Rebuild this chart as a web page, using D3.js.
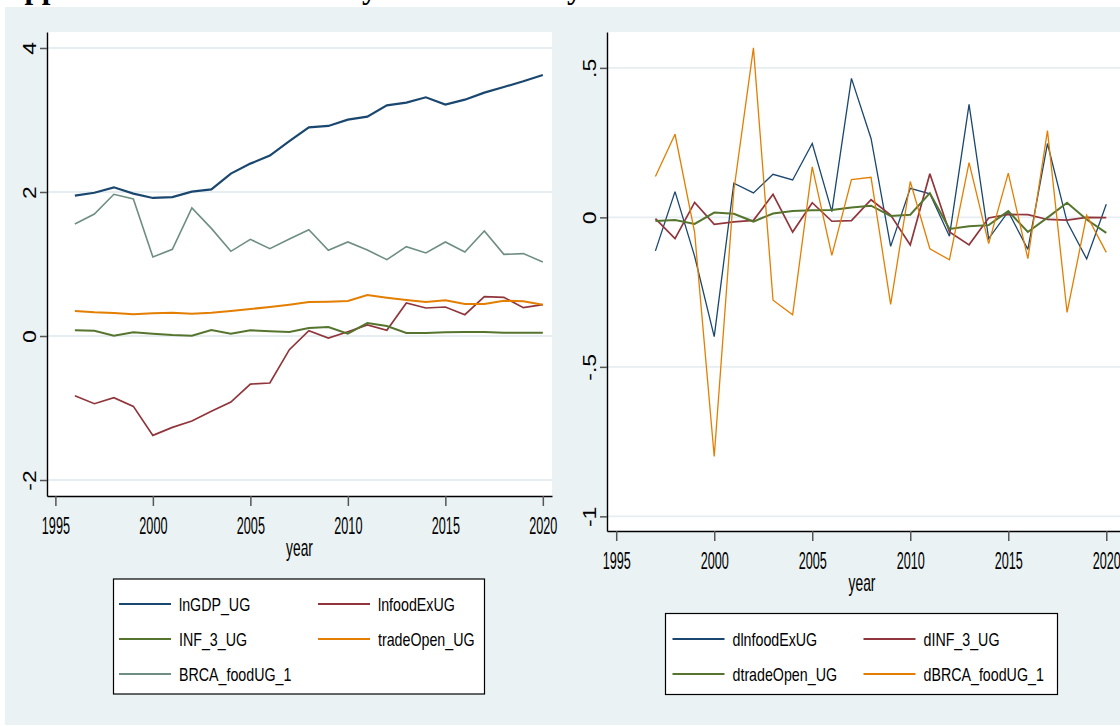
<!DOCTYPE html>
<html>
<head>
<meta charset="utf-8">
<script src="https://cdn.jsdelivr.net/npm/d3@7/dist/d3.min.js"></script>
<style>
  html, body { margin: 0; padding: 0; background: #ffffff; }
  svg { display: block; }
  text { font-family: "Liberation Sans", Arial, sans-serif; fill: #000; }
</style>
</head>
<body>
<svg id="chart" width="1120" height="726"></svg>
<script>
// ---- data -------------------------------------------------------------
const years  = [1996, 1997, 1998, 1999, 2000, 2001, 2002, 2003, 2004, 2005, 2006, 2007, 2008,
                2009, 2010, 2011, 2012, 2013, 2014, 2015, 2016, 2017, 2018, 2019, 2020];
const dyears = [1997, 1998, 1999, 2000, 2001, 2002, 2003, 2004, 2005, 2006, 2007, 2008,
                2009, 2010, 2011, 2012, 2013, 2014, 2015, 2016, 2017, 2018, 2019, 2020];

// levels
const lnGDP_UG      = [1.949, 1.99, 2.065, 1.977, 1.917, 1.93, 2.005, 2.037, 2.255, 2.394, 2.505, 2.708, 2.898,
                       2.917, 3.005, 3.046, 3.204, 3.241, 3.315, 3.213, 3.282, 3.38, 3.458, 3.537, 3.625];
const lnfoodExUG    = [-0.829, -0.94, -0.856, -0.977, -1.38, -1.269, -1.181, -1.046, -0.917, -0.667, -0.653, -0.19, 0.074,
                       -0.028, 0.06, 0.153, 0.079, 0.458, 0.389, 0.403, 0.296, 0.546, 0.537, 0.393, 0.435];
const INF_3_UG      = [0.079, 0.074, 0.005, 0.051, 0.032, 0.014, 0.005, 0.083, 0.032, 0.079, 0.065, 0.056, 0.111,
                       0.125, 0.032, 0.18, 0.139, 0.042, 0.042, 0.051, 0.056, 0.056, 0.046, 0.046, 0.046];
const tradeOpen_UG  = [0.347, 0.329, 0.319, 0.301, 0.315, 0.324, 0.31, 0.324, 0.347, 0.375, 0.403, 0.435, 0.472,
                       0.477, 0.486, 0.569, 0.532, 0.5, 0.472, 0.495, 0.444, 0.444, 0.491, 0.481, 0.435];
const BRCA_foodUG_1 = [1.556, 1.694, 1.968, 1.903, 1.097, 1.204, 1.778, 1.495, 1.176, 1.343, 1.213, 1.347, 1.477,
                       1.19, 1.306, 1.194, 1.06, 1.241, 1.153, 1.306, 1.167, 1.458, 1.134, 1.144, 1.028];

// first differences
const dlnfoodExUG    = [-0.112, 0.086, -0.13, -0.399, 0.114, 0.082, 0.144, 0.125, 0.247, 0.019, 0.465, 0.264,
                        -0.097, 0.097, 0.079, -0.063, 0.378, -0.071, 0.019, -0.107, 0.247, -0.015, -0.139, 0.044];
const dINF_3_UG      = [-0.004, -0.071, 0.05, -0.023, -0.015, -0.01, 0.077, -0.049, 0.049, -0.013, -0.011, 0.059,
                        0.008, -0.092, 0.146, -0.049, -0.092, -0.002, 0.01, 0.009, -0.007, -0.009, 0, -0.001];
const dtradeOpen_UG  = [-0.012, -0.009, -0.022, 0.016, 0.012, -0.014, 0.013, 0.021, 0.024, 0.025, 0.033, 0.039,
                        0.005, 0.009, 0.081, -0.039, -0.03, -0.026, 0.021, -0.049, -0.001, 0.049, -0.007, -0.052];
const dBRCA_foodUG_1 = [0.137, 0.278, -0.05, -0.8, 0.09, 0.567, -0.277, -0.326, 0.169, -0.127, 0.126, 0.134,
                        -0.291, 0.12, -0.105, -0.142, 0.183, -0.088, 0.148, -0.138, 0.29, -0.318, 0.007, -0.117];

// axes
const yearTicks       = [1995, 2000, 2005, 2010, 2015, 2020];
const levelTicks      = [-2, 0, 2, 4];
const levelTickLabels = ["-2", "0", "2", "4"];
const diffTicks       = [-1, -0.5, 0, 0.5];
const diffTickLabels  = ["-1", "-.5", "0", ".5"];
const xTitle = "year";
const heading = "Appendix 1: Non-Stationary and Stationary time series of variables";

const levelNames = ["lnGDP_UG", "lnfoodExUG", "INF_3_UG", "tradeOpen_UG", "BRCA_foodUG_1"];
const diffNames  = ["dlnfoodExUG", "dINF_3_UG", "dtradeOpen_UG", "dBRCA_foodUG_1"];

// ---- drawing ----------------------------------------------------------
const C = { navy: "#1a476f", maroon: "#90353b", green: "#55752f", orange: "#e37e00", teal: "#6e8e84" };
const BG = "#eaf2f3", GRID = "#e6eef1";

const svg = d3.select("#chart");

svg.append("rect").attr("x", 5).attr("y", 7).attr("width", 1115).attr("height", 718).attr("fill", BG);

// page heading; only its lowest strip falls inside the page
svg.append("text")
  .attr("x", 2).attr("y", -2)
  .style("font-family", "'Liberation Serif', 'Times New Roman', serif")
  .style("font-weight", "bold").style("font-size", "31px")
  .text(heading);

function stext(sel, x, y, str, fs, sx, anchor) {
  return sel.append("text")
    .attr("transform", `translate(${x},${y}) scale(${sx},1)`)
    .attr("text-anchor", anchor || "start")
    .style("font-size", fs + "px")
    .text(str);
}

function panel(p) {
  const g = svg.append("g");
  const x = d3.scaleLinear().domain(p.xDomain).range([p.x0, p.x1]);
  const y = d3.scaleLinear().domain(p.yDomain).range([p.y1, p.y0]);

  g.append("rect").attr("x", p.x0).attr("y", p.y0)
    .attr("width", p.x1 - p.x0).attr("height", p.y1 - p.y0).attr("fill", "#fff");

  // horizontal grid
  g.append("g").selectAll("line").data(p.yTicks).join("line")
    .attr("x1", p.x0).attr("x2", p.x1)
    .attr("y1", d => y(d)).attr("y2", d => y(d))
    .attr("stroke", GRID).attr("stroke-width", 1.8);

  // series
  const line = d3.line().x(d => x(d[0])).y(d => y(d[1]));
  p.series.forEach(s => {
    g.append("path")
      .datum(p.years.map((yr, i) => [yr, s.values[i]]))
      .attr("d", line).attr("fill", "none")
      .attr("stroke", s.color).attr("stroke-width", s.width)
      .attr("stroke-linejoin", "miter").attr("stroke-miterlimit", 3);
  });

  // x axis
  const xa = g.append("g").attr("transform", `translate(0,${p.y1})`)
    .call(d3.axisBottom(x).tickValues(yearTicks).tickSize(10).tickSizeOuter(0).tickFormat(d3.format("d")));
  xa.select(".domain").attr("stroke", "#000").attr("stroke-width", 1.4);
  xa.selectAll(".tick line").attr("stroke", "#555").attr("stroke-width", 1.5);
  xa.selectAll(".tick text")
    .attr("y", null).attr("dy", null).attr("fill", "#000")
    .attr("transform", "translate(0,37.5) scale(0.55,1)")
    .style("font-size", "23px").style("font-family", "'Liberation Sans', Arial, sans-serif");

  // y axis
  const ya = g.append("g").attr("transform", `translate(${p.x0},0)`)
    .call(d3.axisLeft(y).tickValues(p.yTicks).tickSize(7).tickSizeOuter(0)
      .tickFormat((d, i) => p.yLabels[i]));
  ya.select(".domain").attr("stroke", "#000").attr("stroke-width", 1.4);
  ya.selectAll(".tick line").attr("stroke", "#555").attr("stroke-width", 1.5);
  ya.selectAll(".tick text")
    .attr("x", null).attr("dy", null).attr("fill", "#000")
    .attr("text-anchor", "middle")
    .attr("transform", "translate(-11,0) scale(0.76,1) rotate(-90)")
    .style("font-size", "23px").style("font-family", "'Liberation Sans', Arial, sans-serif");

  // axis title
  stext(g, (p.x0 + p.xTitleRight) / 2, p.y1 + 60, xTitle, 23, 0.6, "middle");

  // legend
  const L = p.legend;
  g.append("rect").attr("x", L.x0).attr("y", L.y0)
    .attr("width", L.x1 - L.x0).attr("height", L.y1 - L.y0)
    .attr("fill", "#fff").attr("stroke", "#000").attr("stroke-width", 1.2);
  p.series.forEach((s, i) => {
    const col = i % 2, row = Math.floor(i / 2);
    const cy = L.rowY[row];
    const sx0 = L.colX[col];
    g.append("line").attr("x1", sx0).attr("x2", sx0 + 52)
      .attr("y1", cy).attr("y2", cy)
      .attr("stroke", s.color).attr("stroke-width", 2);
    stext(g, sx0 + 60, cy + 6.6, s.name, 19, 0.75, "start");
  });
}

panel({
  x0: 47, x1: 552, y0: 32, y1: 496, xTitleRight: 552,
  xDomain: [1994.57, 2020.47], yDomain: [-2.222, 4.222],
  yTicks: levelTicks, yLabels: levelTickLabels, years: years,
  series: [
    { name: levelNames[0], values: lnGDP_UG,      color: C.navy,   width: 2.2 },
    { name: levelNames[1], values: lnfoodExUG,    color: C.maroon, width: 1.7 },
    { name: levelNames[2], values: INF_3_UG,      color: C.green,  width: 2.0 },
    { name: levelNames[3], values: tradeOpen_UG,  color: C.orange, width: 2.0 },
    { name: levelNames[4], values: BRCA_foodUG_1, color: C.teal,   width: 1.6 }
  ],
  legend: { x0: 113.5, x1: 484.5, y0: 579, y1: 694, rowY: [604, 639, 674], colX: [119, 318] }
});

panel({
  x0: 607, x1: 1120, y0: 32, y1: 531, xTitleRight: 1117,
  xDomain: [1994.53, 2020.7], yDomain: [-1.049, 0.62],
  yTicks: diffTicks, yLabels: diffTickLabels, years: dyears,
  series: [
    { name: diffNames[0], values: dlnfoodExUG,    color: C.navy,   width: 1.3 },
    { name: diffNames[1], values: dINF_3_UG,      color: C.maroon, width: 1.7 },
    { name: diffNames[2], values: dtradeOpen_UG,  color: C.green,  width: 2.0 },
    { name: diffNames[3], values: dBRCA_foodUG_1, color: C.orange, width: 1.3 }
  ],
  legend: { x0: 665.5, x1: 1057.5, y0: 613.5, y1: 694.5, rowY: [639, 674], colX: [672.5, 863.5] }
});
</script>
</body>
</html>
